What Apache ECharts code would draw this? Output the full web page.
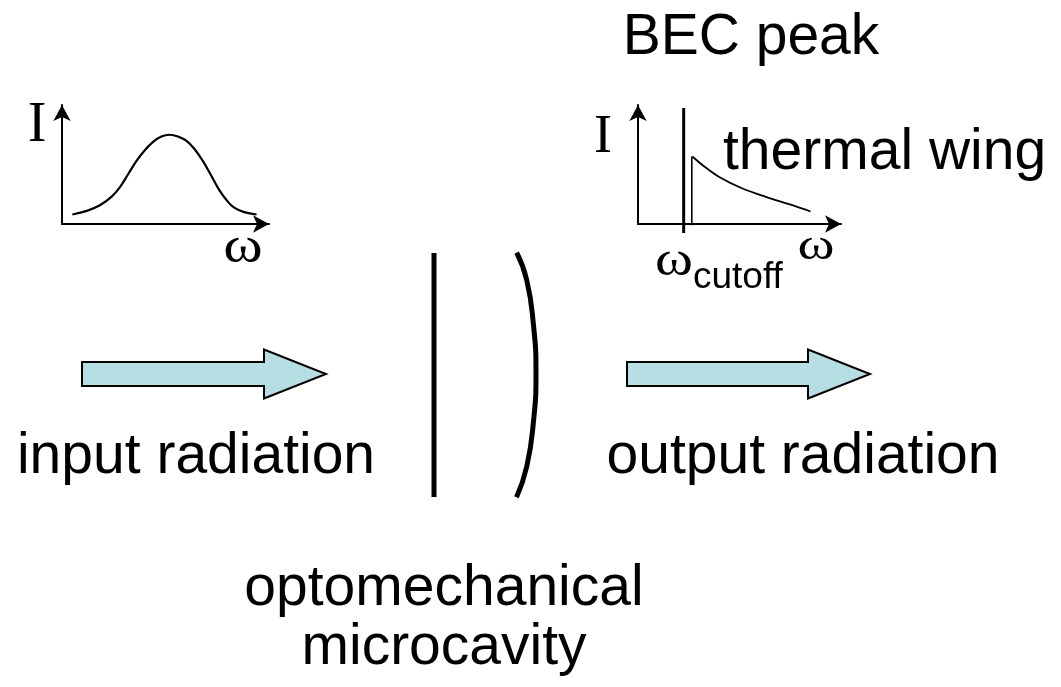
<!DOCTYPE html>
<html>
<head>
<meta charset="utf-8">
<script src="https://cdn.jsdelivr.net/npm/echarts@6/dist/echarts.min.js"></script>
<style>html,body{margin:0;padding:0;background:#fff}#c{width:1061px;height:687px}</style>
</head>
<body>
<div id="c"></div>
<script>
// Input spectrum (left inset), arbitrary units 0..10
const inputOmega = [0.5, 1.2, 1.85, 2.4, 2.8, 3.2, 3.6, 4.0, 4.4, 4.8, 5.2, 5.6, 6.0, 6.4, 6.8, 7.2, 7.6, 8.0, 8.3, 8.8, 9.4];
const inputI     = [0.8, 1.1, 1.6, 2.3, 3.1, 4.2, 5.3, 6.2, 6.9, 7.35, 7.5, 7.35, 7.0, 6.3, 5.3, 4.1, 2.85, 1.9, 1.4, 1.0, 0.8];
// Output spectrum (right inset)
const becOmega = [2.25, 2.25];
const becI     = [-0.75, 9.75];
const edgeOmega = [2.65, 2.65];
const edgeI     = [-0.1, 5.67];
const wingOmega = [2.68, 3.2, 4.0, 5.15, 6.3, 7.6, 8.5];
const wingI     = [5.67, 4.92, 3.95, 2.98, 2.28, 1.58, 1.05];
// Scene elements (scene units)
const arrowStart = [82, 627];
const arrowTip   = [326, 870];
const arrowLevel = [374, 374];
const flatMirrorX = [434, 434];
const flatMirrorY = [253, 497];
const curvedMirrorX = [516.7, 526.7, 533.3, 536, 533.3, 526.7, 516.5];
const curvedMirrorY = [252.7, 280, 323.3, 373.3, 423.3, 466.7, 497.3];
// Labels
const labels = {
  bec: 'BEC peak', wing: 'thermal wing', input: 'input radiation', output: 'output radiation',
  cavity1: 'optomechanical', cavity2: 'microcavity', I: 'I', omega: 'ω', cutoff: 'cutoff'
};

const zip = (a, b) => a.map((v, i) => [v, b[i]]);
const chart = echarts.init(document.getElementById('c'), null, {renderer: 'canvas'});

const insetAxis = () => ({
  type: 'value', min: 0, max: 10,
  axisLine: {show: true, onZero: false, symbol: ['none', 'arrow'], symbolSize: [13, 16], lineStyle: {color: '#000', width: 2}},
  axisTick: {show: false}, axisLabel: {show: false}, splitLine: {show: false}
});

const sans = 'Liberation Sans, Arial, sans-serif';
const serif = 'Liberation Serif, Times New Roman, serif';
const txt = (text, x, y, size, family, align, weight, sx) => ({
  type: 'text', x: x, y: y, z: 10, scaleX: sx || 1,
  style: {text: text, font: (weight || 'normal') + ' ' + size + 'px ' + family, fill: '#000',
          textAlign: align || 'center', textVerticalAlign: 'middle'}
});

const option = {
  animation: false,
  backgroundColor: '#fff',
  grid: [
    {left: 62, top: 105, width: 207, height: 119},
    {left: 638, top: 105, width: 203, height: 119},
    {left: 0, top: 0, width: 1061, height: 687}
  ],
  xAxis: [
    Object.assign(insetAxis(), {gridIndex: 0}),
    Object.assign(insetAxis(), {gridIndex: 1}),
    {type: 'value', gridIndex: 2, min: 0, max: 1061, show: false}
  ],
  yAxis: [
    Object.assign(insetAxis(), {gridIndex: 0}),
    Object.assign(insetAxis(), {gridIndex: 1}),
    {type: 'value', gridIndex: 2, min: 0, max: 687, inverse: true, show: false}
  ],
  series: [
    {type: 'line', xAxisIndex: 0, yAxisIndex: 0, data: zip(inputOmega, inputI), smooth: 0.4, symbol: 'none',
     lineStyle: {color: '#000', width: 2.2}},
    {type: 'line', xAxisIndex: 1, yAxisIndex: 1, data: zip(becOmega, becI), symbol: 'none', clip: false,
     lineStyle: {color: '#000', width: 3}},
    {type: 'line', xAxisIndex: 1, yAxisIndex: 1, data: zip(edgeOmega, edgeI), symbol: 'none', clip: false,
     lineStyle: {color: '#000', width: 1.6}},
    {type: 'line', xAxisIndex: 1, yAxisIndex: 1, data: zip(wingOmega, wingI), smooth: 0.35, symbol: 'none',
     lineStyle: {color: '#000', width: 1.8}},
    {type: 'line', xAxisIndex: 2, yAxisIndex: 2, data: zip(flatMirrorX, flatMirrorY), symbol: 'none',
     lineStyle: {color: '#000', width: 5}},
    {type: 'line', xAxisIndex: 2, yAxisIndex: 2, data: zip(curvedMirrorX, curvedMirrorY), smooth: 0.5, symbol: 'none',
     lineStyle: {color: '#000', width: 5}},
    {type: 'custom', xAxisIndex: 2, yAxisIndex: 2,
     data: arrowStart.map((s, i) => [s, arrowTip[i], arrowLevel[i]]),
     renderItem: (params, api) => {
       const p0 = api.coord([api.value(0), api.value(2)]);
       const p1 = api.coord([api.value(1), api.value(2)]);
       const bh = 12, hh = 24.5, hl = 62, yc = p0[1];
       const pts = [[p0[0], yc - bh], [p1[0] - hl, yc - bh], [p1[0] - hl, yc - hh], [p1[0], yc],
                    [p1[0] - hl, yc + hh], [p1[0] - hl, yc + bh], [p0[0], yc + bh]];
       return {type: 'polygon', shape: {points: pts},
               style: {fill: '#b7dfe3', stroke: '#000', lineWidth: 2, lineJoin: 'miter'}};
     }}
  ],
  graphic: [
    txt(labels.bec, 751, 38, 57, sans),
    txt(labels.wing, 723, 153, 57, sans, 'left'),
    txt(labels.input, 196, 457, 57, sans),
    txt(labels.output, 803, 457, 57, sans),
    txt(labels.cavity1, 444, 589, 57, sans),
    txt(labels.cavity2, 444, 648, 57, sans),
    txt(labels.I, 37, 126, 56, serif),
    txt(labels.I, 603, 138, 54, serif),
    txt(labels.omega, 243, 249, 50, serif, 'center', 'normal', 1.2),
    txt(labels.omega, 816, 247, 45, serif, 'center', 'normal', 1.25),
    txt(labels.omega, 674, 262, 48, serif, 'center', 'normal', 1.2),
    txt(labels.cutoff, 693, 278, 37, sans, 'left')
  ]
};
chart.setOption(option);
</script>
</body>
</html>
